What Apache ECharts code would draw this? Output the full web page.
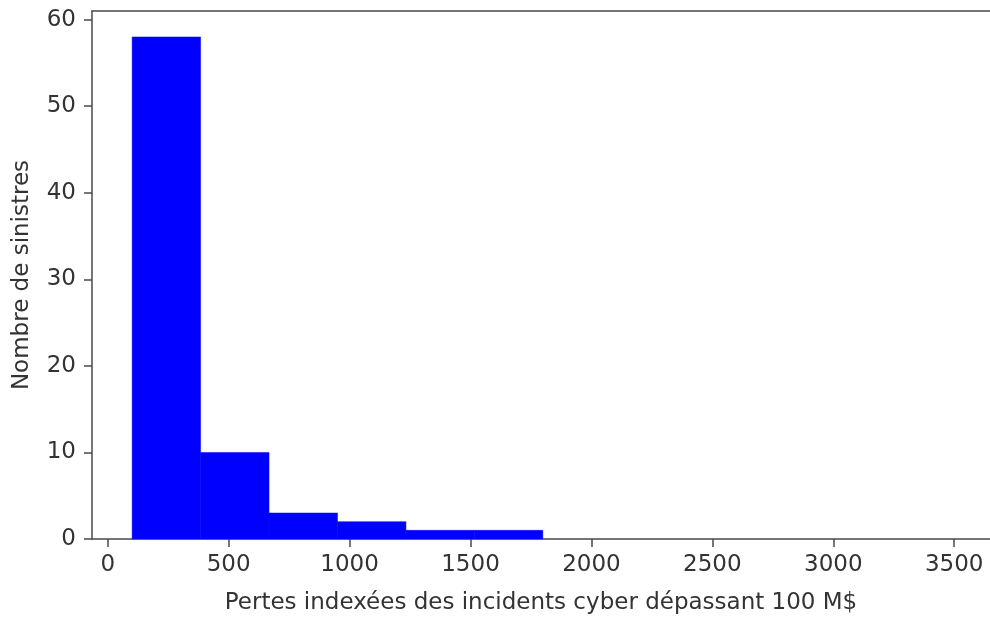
<!DOCTYPE html>
<html>
<head>
<meta charset="utf-8">
<script src="https://cdn.jsdelivr.net/npm/echarts@6/dist/echarts.min.js"></script>
<style>
  html, body { margin: 0; padding: 0; background: #fff; }
  #chart { width: 990px; height: 618px; }
</style>
</head>
<body>
<div id="chart"></div>
<script>
// Histogram of indexed losses (M$) for cyber incidents above 100 M$
const binEdges = [101, 384, 667, 950, 1233, 1516, 1799];
const counts = [58, 10, 3, 2, 1, 1];
const xTicks = [0, 500, 1000, 1500, 2000, 2500, 3000, 3500];
const yTicks = [0, 10, 20, 30, 40, 50, 60];

const bins = counts.map((c, i) => [binEdges[i], binEdges[i + 1], c]);

const font = 'DejaVu Sans';
const fontSize = 23;
const textColor = '#333';
const spineColor = '#4a4a4a';
const spine = { show: true, onZero: false, lineStyle: { color: spineColor, width: 1.5 } };

const chart = echarts.init(document.getElementById('chart'), null, { renderer: 'canvas' });

chart.setOption({
  animation: false,
  backgroundColor: '#fff',
  grid: { left: 92, right: 0, top: 11, bottom: 79, outerBoundsMode: 'none', containLabel: false },
  xAxis: [{
    type: 'value',
    position: 'bottom',
    min: -65, max: 3648,
    splitLine: { show: false },
    axisLine: spine,
    axisTick: { show: true, length: 8, customValues: xTicks, lineStyle: { color: spineColor, width: 1.5 } },
    axisLabel: {
      customValues: xTicks, margin: 15, fontFamily: font, fontSize: fontSize, color: textColor,
      formatter: v => String(v)
    },
    name: 'Pertes indexées des incidents cyber dépassant 100 M$',
    nameLocation: 'middle', nameGap: 53,
    nameTextStyle: { fontFamily: font, fontSize: fontSize, color: textColor }
  }, {
    // top spine
    type: 'value',
    position: 'top',
    min: -65, max: 3648,
    splitLine: { show: false },
    axisLine: spine,
    axisTick: { show: false },
    axisLabel: { show: false }
  }],
  yAxis: {
    type: 'value',
    min: 0, max: 61,
    splitLine: { show: false },
    axisLine: spine,
    axisTick: { show: true, length: 8, customValues: yTicks, lineStyle: { color: spineColor, width: 1.5 } },
    axisLabel: { customValues: yTicks, margin: 16, fontFamily: font, fontSize: fontSize, color: textColor },
    name: 'Nombre de sinistres',
    nameLocation: 'middle', nameGap: 58,
    nameTextStyle: { fontFamily: font, fontSize: fontSize, color: textColor }
  },
  series: [{
    type: 'custom',
    xAxisIndex: 0,
    data: bins,
    encode: { x: [0, 1], y: 2 },
    renderItem: function (params, api) {
      const p0 = api.coord([api.value(0), 0]);
      const p1 = api.coord([api.value(1), api.value(2)]);
      return {
        type: 'rect',
        shape: { x: p0[0], y: p1[1], width: p1[0] - p0[0], height: p0[1] - p1[1] },
        style: { fill: '#0000ff', stroke: '#0000ff', lineWidth: 0.5 }
      };
    }
  }]
});
</script>
</body>
</html>
